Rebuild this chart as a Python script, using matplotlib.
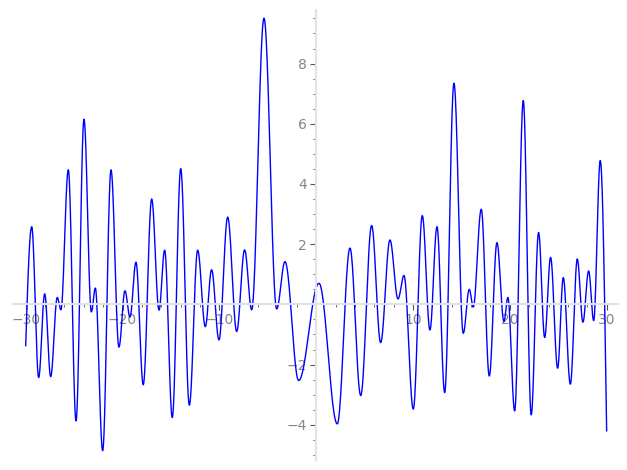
import numpy as np
import matplotlib
matplotlib.use("Agg")
import matplotlib.pyplot as plt
from matplotlib.ticker import MultipleLocator

# turning points of the curve (x, y), first and last are the ends
x_pts = [-30.0, -29.38, -28.66, -28.04, -27.42, -26.74, -26.36, -25.60, -24.80, -23.98,
         -23.22, -22.81, -22.05, -21.19, -20.37, -19.75, -19.23, -18.61, -17.86, -16.99,
         -16.23, -15.65, -14.86, -13.99, -13.10, -12.24, -11.45, -10.80, -10.04, -9.14,
         -8.21, -7.39, -6.66, -5.39, -4.08, -3.22, -1.81, 0.29, 2.18, 3.49,
         4.60, 5.73, 6.66, 7.62, 8.45, 9.07, 10.03, 10.96, 11.75, 12.48,
         13.27, 14.23, 15.19, 15.81, 16.22, 17.05, 17.88, 18.67, 19.39, 19.80,
         20.50, 21.39, 22.21, 22.97, 23.60, 24.21, 24.94, 25.52, 26.25, 26.97,
         27.55, 28.14, 28.66, 29.34, 30.0]
y_pts = [-1.37, 2.58, -2.43, 0.35, -2.40, 0.23, -0.18, 4.47, -3.87, 6.15,
         -0.25, 0.54, -4.86, 4.47, -1.42, 0.45, -0.42, 1.40, -2.67, 3.50,
         -0.19, 1.80, -3.76, 4.51, -3.35, 1.80, -0.74, 1.15, -1.18, 2.90,
         -0.90, 1.81, -0.18, 9.51, -0.15, 1.42, -2.53, 0.70, -3.97, 1.87,
         -3.03, 2.62, -1.27, 2.14, 0.18, 0.96, -3.48, 2.95, -0.85, 2.58,
         -2.93, 7.35, -0.96, 0.50, -0.09, 3.16, -2.38, 2.05, -0.57, 0.23,
         -3.54, 6.77, -3.67, 2.39, -1.10, 1.56, -2.12, 0.89, -2.65, 1.50,
         -0.59, 1.11, -0.54, 4.78, -4.20]

xs, ys = [], []
n = len(x_pts)
for i in range(n - 1):
    x0, x1 = x_pts[i], x_pts[i + 1]
    y0, y1 = y_pts[i], y_pts[i + 1]
    t = np.linspace(0, 1, 40)
    if i == 0:
        s = np.sin(t * np.pi / 2)          # curve enters already moving
    elif i == n - 2:
        s = 1 - np.cos(t * np.pi / 2)      # curve leaves still moving
    else:
        s = (1 - np.cos(t * np.pi)) / 2    # smooth swing between extrema
    xs.append(x0 + (x1 - x0) * t)
    ys.append(y0 + (y1 - y0) * s)
xs = np.concatenate(xs)
ys = np.concatenate(ys)

fig = plt.figure(figsize=(6.27, 4.70), dpi=100)
ax = fig.add_axes([0.0203, 0.0213, 0.9653, 0.9574])

ax.plot(xs, ys, color="blue", linewidth=1.0)

ax.set_xlim(-31.34, 31.17)
ax.set_ylim(-5.17, 9.78)

for side in ["top", "right"]:
    ax.spines[side].set_visible(False)
for side in ["left", "bottom"]:
    ax.spines[side].set_position("zero")
    ax.spines[side].set_color("#e2e2e2")
    ax.spines[side].set_linewidth(1.5)

ax.xaxis.set_major_locator(MultipleLocator(10))
ax.xaxis.set_minor_locator(MultipleLocator(2))
ax.yaxis.set_major_locator(MultipleLocator(2))
ax.yaxis.set_minor_locator(MultipleLocator(0.5))

ax.tick_params(which="major", direction="out", length=4, width=0.8, color="#555555",
               labelcolor="#858585", labelsize=10, pad=2.5)
ax.tick_params(which="minor", direction="out", length=2.5, width=0.6, color="#555555")

xt = [-30, -20, -10, 10, 20, 30]
yt = [-4, -2, 2, 4, 6, 8]
ax.set_xticks(xt)
ax.set_xticklabels([f"{v}".replace("-", "\u2212") for v in xt])
ax.set_yticks(yt)
ax.set_yticklabels([f"{v}".replace("-", "\u2212") for v in yt])
ax.set_facecolor("white")

fig.savefig("out.png", dpi=100)
